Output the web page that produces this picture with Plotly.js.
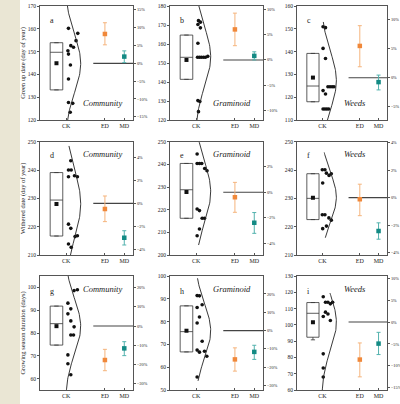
<!DOCTYPE html>
<html><head><meta charset="utf-8">
<script src="https://cdn.plot.ly/plotly-3.0.1.min.js"></script>
<style>html,body{margin:0;padding:0;background:#fff}#chart{width:400px;height:404px}</style>
</head><body><div id="chart"></div>
<script>
// ---------------- DATA ----------------
const panelLetters = ['a','b','c','d','e','f','g','h','i'];
const groupNames = ['Community','Graminoid','Weeds','Community','Graminoid','Weeds','Community','Graminoid','Weeds'];
const xCategories = ['CK','ED','MD'];
const xCategoryPos = [1, 3, 4];
const rowTitles = ['Green up date (day of year)','Withered date (day of year)','Growing season duration (days)'];

// CK observations (y) and their horizontal spread (x) per panel
const ckA  = [160.2,158.0,154.8,152.6,151.9,150.4,148.9,144.1,138.0,127.7,127.3,123.4];
const ckAx = [1.12,1.60,1.51,1.24,1.38,1.09,1.12,1.22,1.12,1.12,1.34,1.21];
const ckB  = [172.3,171.5,170.3,168.5,160.4,153.0,153.0,153.0,153.0,153.0,153.5,130.2,129.7,124.4];
const ckBx = [1.12,1.22,1.09,1.22,1.09,1.07,1.17,1.27,1.38,1.48,1.60,1.09,1.19,1.12];
const ckC  = [150.9,150.5,141.4,137.0,122.9,121.4,124.6,124.6,124.6,124.6,114.8,114.8,114.8,114.8];
const ckCx = [1.04,1.17,1.04,1.17,1.04,1.17,1.30,1.41,1.52,1.62,1.04,1.14,1.24,1.34];
const ckD  = [243.3,240.0,240.0,237.6,238.0,237.6,220.9,219.4,216.8,216.5,213.9,212.7];
const ckDx = [1.24,1.12,1.26,1.12,1.43,1.58,1.12,1.24,1.58,1.46,1.12,1.26];
const ckE  = [244.6,240.4,240.4,240.4,238.2,237.2,220.3,219.6,216.2,216.2,211.5,208.5];
const ckEx = [1.05,1.05,1.17,1.29,1.44,1.56,1.05,1.17,1.31,1.43,1.17,1.05];
const ckF  = [240.1,240.1,238.9,238.1,238.7,235.4,224.2,224.2,223.1,222.3,220.2,219.3];
const ckFx = [1.00,1.14,1.22,1.36,1.48,1.02,1.00,1.14,1.35,1.48,1.22,1.02];
const ckG  = [99.0,98.6,93.1,90.6,88.4,85.3,82.7,79.1,79.1,70.4,66.5,61.7];
const ckGx = [1.58,1.41,1.09,1.24,1.09,1.24,1.41,1.24,1.38,1.09,1.09,1.24];
const ckH  = [91.4,91.3,87.4,86.2,82.0,79.4,71.4,67.5,66.6,67.0,64.8,55.7];
const ckHx = [1.05,1.17,1.31,1.05,1.17,1.05,1.31,1.05,1.17,1.43,1.55,1.05];
const ckI  = [117.3,113.9,113.9,112.9,113.9,107.8,106.7,105.1,102.7,82.2,73.5,68.0];
const ckIx = [1.05,1.17,1.30,1.43,1.55,1.17,1.30,1.05,1.43,1.05,1.05,1.05];

// CK box statistics per panel (a..i)
const boxQ1     = [133.2,141.4,118.0,216.7,216.2,222.5,74.7,66.7,92.4];
const boxMedian = [149.7,153.0,124.9,229.4,228.8,230.0,84.1,75.6,107.1];
const boxQ3     = [153.9,164.7,139.2,239.1,240.4,238.7,91.8,86.9,113.7];
const boxLower  = [136.7,141.8,120.0,220.2,219.4,224.8,75.2,68.0,90.8];
const boxUpper  = [153.2,161.5,137.5,235.9,236.0,236.1,90.9,85.2,112.7];
const boxMean   = [144.9,151.6,128.6,228.0,227.8,230.2,83.0,76.0,101.6];

// ED / MD relative change (%) with error bars
const edMean = [8.25,6.0,5.5,-0.49,-0.39,-0.12,-17.8,-15.7,-8.56];
const edLow  = [5.2,2.8,1.9,-1.59,-1.57,-1.31,-23.4,-22.1,-12.5];
const edHigh = [11.4,9.2,9.0,0.64,0.78,0.98,-12.2,-9.4,-4.77];
const mdMean = [1.9,0.8,-0.75,-2.99,-2.38,-2.43,-11.7,-11.6,-4.92];
const mdLow  = [0.2,0.0,-2.1,-3.62,-3.22,-3.02,-15.5,-15.7,-7.42];
const mdHigh = [3.5,1.6,0.46,-2.38,-1.59,-1.83,-8.2,-8.0,-2.35];

// extent of the fitted normal curve (left-axis units)
const curveLow  = [118,118,108,208,204.4,216.1,53,54,58];
const curveHigh = [172,182,153,248.5,252,246.2,107,99,119.5];

// ---------------- LAYOUT CONFIG ----------------
const ckSeries = [ckA,ckB,ckC,ckD,ckE,ckF,ckG,ckH,ckI];
const ckSpread = [ckAx,ckBx,ckCx,ckDx,ckEx,ckFx,ckGx,ckHx,ckIx];
const W = 400, H = 404;
const colPx = [[40,133],[170,263],[297,387]];
const rowPx = [[6,120],[141.7,255],[276,390]];
const leftRange  = [[120,170],[120,180],[110,160],[210,250],[200,250],[210,250],[55,105],[50,100],[60,130]];
const leftDtick  = [10,10,10,10,10,10,10,10,10];
const rightRange = [[-15.9,16.1],[-11.8,10.6],[-7.3,12.4],[-4.49,5.36],[-4.92,3.97],[-4.17,4.07],[-33.5,26.2],[-32.4,29.8],[-15.5,10.5]];
const rightDtick = [5,5,5,2,2,2,10,10,5];
const xRange = [-0.35, 4.45];
const FONT = 'Liberation Serif, Times New Roman, serif';
const AX = '#555';
const TXT = '#1a1a1a';
const ED_C = '#F0883A', ED_E = '#F5B47C', MD_C = '#138A84', MD_E = '#52B2AE';

const traces = [];
const layout = {
  width: W, height: H, margin: {l:0,r:0,t:0,b:0},
  paper_bgcolor: '#fff', plot_bgcolor: 'rgba(0,0,0,0)', showlegend: false,
  font: {family: FONT, color: TXT},
  shapes: [{type:'rect', xref:'paper', yref:'paper', x0:0, x1:20/W, y0:0, y1:1, fillcolor:'#EAE6D4', line:{width:0}, layer:'below'}],
  annotations: []
};

function stats(arr){
  const m = arr.reduce((a,b)=>a+b,0)/arr.length;
  const v = arr.reduce((a,b)=>a+(b-m)*(b-m),0)/(arr.length-1);
  return [m, Math.sqrt(v)];
}

for (let k=0;k<9;k++){
  const r = Math.floor(k/3), c = k%3;
  const xa = 'x'+(k+1), ya = 'y'+(k+1), yr = 'y'+(k+10);
  layout['xaxis'+(k+1)] = {
    domain:[colPx[c][0]/W, colPx[c][1]/W], anchor: ya, range: xRange,
    tickvals: xCategoryPos, ticktext: xCategories, ticks:'inside', ticklen:2, tickcolor: AX,
    tickfont:{size:6, family:FONT, color:TXT}, showline:true, mirror:true, linecolor:AX, linewidth:1,
    showgrid:false, zeroline:false, fixedrange:true
  };
  layout['yaxis'+(k+1)] = {
    domain:[(H-rowPx[r][1])/H, (H-rowPx[r][0])/H], anchor: xa, range: leftRange[k], dtick: leftDtick[k],
    ticks:'outside', ticklen:2, tickcolor:AX, tickfont:{size:5.5, family:FONT, color:TXT},
    showline:true, linecolor:AX, linewidth:1, showgrid:false, zeroline:false
  };
  if (c===0) layout['yaxis'+(k+1)].title = {text: rowTitles[r], font:{size:6.5, family:FONT, color:TXT}, standoff:1};
  layout['yaxis'+(k+10)] = {
    overlaying: ya, side:'right', anchor: xa, range: rightRange[k], dtick: rightDtick[k], ticksuffix:'%',
    ticks:'outside', ticklen:2, tickcolor:AX, tickfont:{size:4.4, family:FONT, color:TXT},
    showline:true, linecolor:AX, linewidth:1, showgrid:false, zeroline:false
  };

  // box
  traces.push({type:'box', xaxis:xa, yaxis:ya, x:[0.5], q1:[boxQ1[k]], median:[boxMedian[k]], q3:[boxQ3[k]],
    lowerfence:[boxLower[k]], upperfence:[boxUpper[k]], width:0.65, whiskerwidth:0.35,
    line:{color:'#333', width:0.8}, fillcolor:'rgba(0,0,0,0)', boxpoints:false, hoverinfo:'skip'});
  // mean marker
  traces.push({type:'scatter', mode:'markers', xaxis:xa, yaxis:ya, x:[0.5], y:[boxMean[k]],
    marker:{symbol:'square', size:4, color:'#111'}, hoverinfo:'skip'});
  // CK points
  traces.push({type:'scatter', mode:'markers', xaxis:xa, yaxis:ya, x:ckSpread[k], y:ckSeries[k],
    marker:{size:3.6, color:'#111'}, hoverinfo:'skip'});
  // normal curve fitted to the CK observations
  const [m,s] = stats(ckSeries[k]);
  const cy=[], cx=[];
  for (let i=0;i<=80;i++){
    const y = curveLow[k] + (curveHigh[k]-curveLow[k])*i/80;
    cy.push(y); cx.push(0.95 + 0.8*Math.exp(-0.5*((y-m)/s)**2));
  }
  traces.push({type:'scatter', mode:'lines', xaxis:xa, yaxis:ya, x:cx, y:cy, line:{color:'#222', width:0.9}, hoverinfo:'skip'});
  // zero reference line
  traces.push({type:'scatter', mode:'lines', xaxis:xa, yaxis:yr, x:[2.4, xRange[1]], y:[0,0], line:{color:'#444', width:1.1}, hoverinfo:'skip'});
  // ED
  traces.push({type:'scatter', mode:'markers', xaxis:xa, yaxis:yr, x:[xCategoryPos[1]], y:[edMean[k]],
    marker:{symbol:'square', size:4.5, color:ED_C},
    error_y:{type:'data', symmetric:false, array:[edHigh[k]-edMean[k]], arrayminus:[edMean[k]-edLow[k]], color:ED_E, thickness:1, width:2}, hoverinfo:'skip'});
  // MD
  traces.push({type:'scatter', mode:'markers', xaxis:xa, yaxis:yr, x:[xCategoryPos[2]], y:[mdMean[k]],
    marker:{symbol:'square', size:4.5, color:MD_C},
    error_y:{type:'data', symmetric:false, array:[mdHigh[k]-mdMean[k]], arrayminus:[mdMean[k]-mdLow[k]], color:MD_E, thickness:1, width:2}, hoverinfo:'skip'});

  // letters and group names
  layout.annotations.push({xref:xa+' domain', yref:ya+' domain', x:0.13, y:(r===0?0.87:(r===1?0.88:0.86)), text:panelLetters[k],
    showarrow:false, font:{size:8, family:FONT, color:TXT}, xanchor:'center', yanchor:'middle'});
  layout.annotations.push({xref:xa+' domain', yref:ya+' domain', x:(c===2?0.64:0.67), y:(r===0?0.15:0.89),
    text:'<i>'+groupNames[k]+'</i>',
    showarrow:false, font:{size:8.5, family:FONT, color:TXT}, xanchor:'center', yanchor:'middle'});
}

Plotly.newPlot('chart', traces, layout, {staticPlot:true, displayModeBar:false});
</script>
</body></html>
